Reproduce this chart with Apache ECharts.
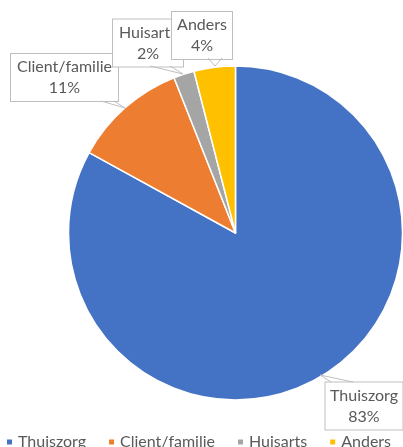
<!DOCTYPE html>
<html>
<head>
<meta charset="utf-8">
<script src="https://cdn.jsdelivr.net/npm/echarts@6/dist/echarts.min.js"></script>
<style>
  html, body { margin: 0; padding: 0; background: #fff; }
  #chart { width: 403px; height: 447px; }
</style>
</head>
<body>
<div id="chart"></div>
<script>
const categories = ['Thuiszorg', 'Client/familie', 'Huisarts', 'Anders'];
const values = [83, 11, 2, 4];
const colors = ['#4472C4', '#ED7D31', '#A5A5A5', '#FFC000'];

// label box centers and inner widths (layout only)
const labelSpots = [
  { x: 364, y: 406, w: 67 },
  { x: 64.5, y: 77.5, w: 97 },
  { x: 148, y: 43, w: 60 },
  { x: 202, y: 35.5, w: 50 }
];
// callout pointers from label boxes to the slices
const callouts = [
  [[353, 382], [320, 375], [331, 382]],
  [[101, 101], [125, 108], [114, 101]],
  [[150, 66], [183, 74], [170, 66]],
  [[208, 58], [215, 66], [222, 58]]
];

const chart = echarts.init(document.getElementById('chart'));

const option = {
  animation: false,
  color: colors,
  textStyle: { fontFamily: 'Lato' },
  legend: {
    data: categories,
    left: 0,
    top: 429,
    icon: 'rect',
    itemWidth: 7,
    itemHeight: 7,
    itemGap: 21,
    textStyle: { fontSize: 16, color: '#595959', fontFamily: 'Lato' }
  },
  graphic: callouts.map((pts) => ({
    type: 'polyline',
    z: 5,
    shape: { points: pts },
    style: { stroke: '#bfbfbf', lineWidth: 1, fill: null }
  })),
  series: [
    {
      type: 'pie',
      z: 2,
      center: [235.5, 233],
      radius: 167,
      startAngle: 90,
      clockwise: true,
      itemStyle: { borderColor: '#fff', borderWidth: 1.5 },
      label: {
        show: true,
        formatter: '{b}\n{d}%',
        fontSize: 16,
        lineHeight: 21,
        color: '#595959',
        fontFamily: 'Lato',
        backgroundColor: '#fff',
        borderColor: '#bfbfbf',
        borderWidth: 1,
        padding: [3, 5, 2, 5],
        overflow: 'none',
        align: 'center'
      },
      labelLine: { show: false },
      labelLayout: function (params) {
        const s = labelSpots[params.dataIndex];
        return {
          x: s.x,
          y: s.y,
          align: 'center',
          verticalAlign: 'middle'
        };
      },
      data: categories.map((name, i) => ({
        name: name,
        value: values[i],
        label: { width: labelSpots[i].w }
      }))
    }
  ]
};

chart.setOption(option);
</script>
</body>
</html>
